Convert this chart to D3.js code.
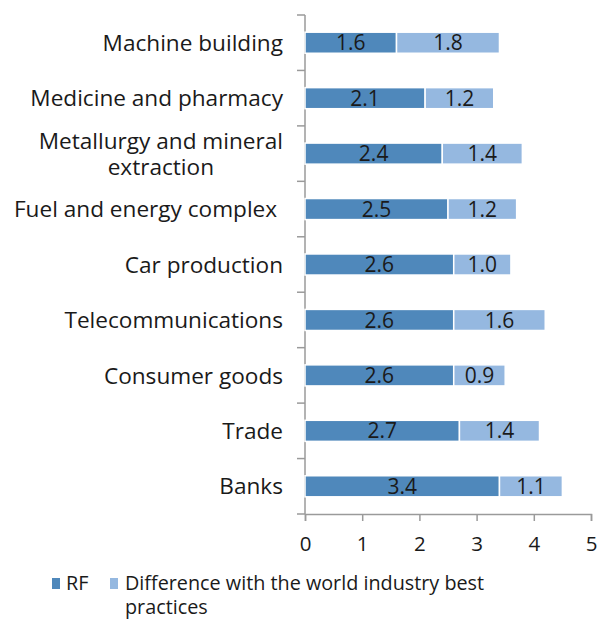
<!DOCTYPE html>
<html><head><meta charset="utf-8">
<script src="https://cdn.jsdelivr.net/npm/d3@7"></script>
<style>body{margin:0;background:#fff}svg{display:block}text{font-family:"Open Sans",sans-serif;fill:#1a1a1a}</style>
</head><body><svg id="c" width="600" height="621"></svg>
<script>
const categories = [["Machine building"],["Medicine and pharmacy"],["Metallurgy and mineral","extraction"],["Fuel and energy complex "],["Car production"],["Telecommunications"],["Consumer goods"],["Trade"],["Banks"]];
const rfValues = [1.6,2.1,2.4,2.5,2.6,2.6,2.6,2.7,3.4];
const diffValues = [1.8,1.2,1.4,1.2,1.0,1.6,0.9,1.4,1.1];
const xTicks = [0,1,2,3,4,5];
const seriesNames = ["RF","Difference with the world industry best","practices"];
const colors = ["#4F88BB","#95B8E0"];

const svg = d3.select("#c");
const keys = categories.map(c=>c.join(" "));
const x = d3.scaleLinear().domain([0,5]).range([305,591]);
const yb = d3.scaleBand().domain(keys).range([15,514]).padding(0);
const y = d3.scaleBand().domain(keys).range([15,514]).paddingInner(0.62).paddingOuter(0.31);
const axisColor = "#9a9a9a";
const catSize = 22.6, valSize = 21, tickSize = 20.5, legSize = 19.8;

svg.append("line").attr("x1",305).attr("x2",305).attr("y1",15).attr("y2",514).attr("stroke",axisColor).attr("stroke-width",1.5);
const bounds = keys.map(k=>yb(k)).concat([514]);
svg.selectAll(".yt").data(bounds).join("line").attr("x1",297).attr("x2",305).attr("y1",d=>d).attr("y2",d=>d).attr("stroke",axisColor).attr("stroke-width",1.5);

const xa = svg.append("g").attr("transform","translate(0,514)").call(d3.axisBottom(x).tickValues(xTicks).tickSize(7).tickFormat(d3.format("d")));
xa.select(".domain").attr("stroke",axisColor).attr("stroke-width",1.5);
xa.selectAll(".tick line").attr("stroke",axisColor).attr("stroke-width",1.5);
xa.selectAll(".tick text").attr("font-size",tickSize).attr("dy",0).attr("y",37).attr("fill","#1a1a1a").attr("font-family","Open Sans");

const g = svg.append("g");
keys.forEach((k,i)=>{
  const y0 = y(k), h = y.bandwidth();
  const segs = [[0,rfValues[i],0],[rfValues[i],rfValues[i]+diffValues[i],1]];
  segs.forEach(([a,b,s])=>{
    g.append("rect").attr("x",x(a)).attr("y",y0).attr("width",x(b)-x(a)).attr("height",h)
      .attr("fill",colors[s]).attr("stroke","#fff").attr("stroke-width",1.5);
    g.append("text").attr("x",(x(a)+x(b))/2).attr("y",y0+h/2).attr("dy","0.36em")
      .attr("text-anchor","middle").attr("font-size",valSize).text((s?diffValues[i]:rfValues[i]).toFixed(1));
  });
});

categories.forEach((lines,i)=>{
  const cy = y(keys[i]) + y.bandwidth()/2;
  if(lines.length===1){
    svg.append("text").attr("font-size",catSize).attr("text-anchor","end").attr("xml:space","preserve")
      .attr("x",283).attr("y",cy).attr("dy","0.36em").text(lines[0]);
  } else {
    const tmp = svg.append("text").attr("font-size",catSize).text(lines[0]);
    const w = tmp.node().getComputedTextLength(); tmp.remove();
    const t = svg.append("text").attr("font-size",catSize).attr("text-anchor","middle");
    t.append("tspan").attr("x",283-w/2).attr("y",cy-13).attr("dy","0.36em").text(lines[0]);
    t.append("tspan").attr("x",283-w/2).attr("y",cy+13).attr("dy","0.36em").text(lines[1]);
  }
});

svg.append("rect").attr("x",52).attr("y",578).attr("width",8).attr("height",11).attr("fill",colors[0]);
svg.append("text").attr("x",66).attr("y",590).attr("font-size",legSize).text(seriesNames[0]);
svg.append("rect").attr("x",110).attr("y",578).attr("width",8).attr("height",11).attr("fill",colors[1]);
const lt = svg.append("text").attr("font-size",legSize);
lt.append("tspan").attr("x",125).attr("y",590).text(seriesNames[1]);
lt.append("tspan").attr("x",125).attr("y",614).text(seriesNames[2]);
</script></body></html>
